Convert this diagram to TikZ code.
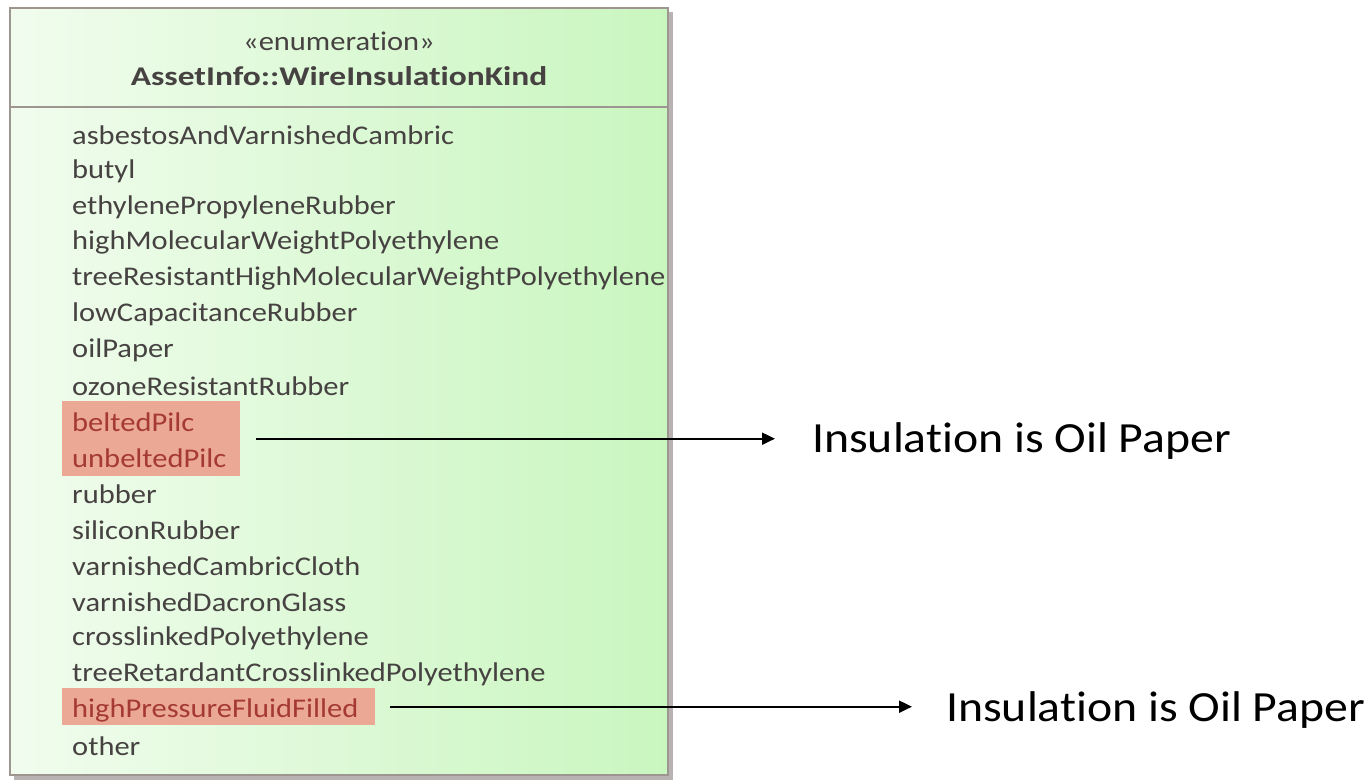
\documentclass[tikz,border=0pt]{standalone}
\usepackage{fontspec}
\defaultfontfeatures{Ligatures=NoCommon, Contextuals=NoAlternate}
\setmainfont{Carlito}
\newfontfamily\umlfont[FakeStretch=1.13]{Carlito}
\newfontfamily\umlbold[FakeStretch=1.24]{Carlito}
\newfontfamily\notefont[FakeStretch=1.11]{Carlito}
\usetikzlibrary{arrows.meta}

\definecolor{enumtext}{HTML}{474242}
\definecolor{oiltext}{HTML}{A53A34}
\definecolor{hilitefill}{HTML}{EBA895}
\definecolor{boxleft}{HTML}{F1FCEE}
\definecolor{boxright}{HTML}{C9F6BF}
\definecolor{boxline}{HTML}{9C9590}
\definecolor{boxshadow}{HTML}{B9B2B2}

\tikzset{
  literal/.style={anchor=west, inner sep=0pt, font=\umlfont\fontsize{27}{30}\selectfont},
  hilite/.style={fill=hilitefill, inner sep=0pt, anchor=north west},
  note/.style={anchor=west, inner sep=0pt, font=\notefont\fontsize{43}{48}\selectfont},
  pointer/.style={-{Triangle[length=13pt,width=12pt]}, line width=2pt}
}

\begin{document}
\begin{tikzpicture}[x=1pt, y=-1pt]
\useasboundingbox (0,0) rectangle (1371,782);

% enumeration box with its shadow
\fill[boxshadow] (14,12) rectangle (673,780);
\shade[left color=boxleft, right color=boxright] (10,8) rectangle (668,775);
\draw[boxline, line width=1.6pt] (10,8) rectangle (668,775);
\draw[boxline, line width=1.6pt] (10,107) -- (668,107);

\node[font=\umlfont\fontsize{27}{30}\selectfont, text=enumtext] (stereo) at (339,41) {«enumeration»};
\node[font=\umlbold\bfseries\fontsize{27}{30}\selectfont, text=enumtext] (kind) at (339,76) {AssetInfo::WireInsulationKind};

% marked literals
\node[hilite, minimum width=178pt, minimum height=75pt] (pilc) at (62,401) {};
\node[hilite, minimum width=313pt, minimum height=37pt] (hpff) at (62,688) {};

\foreach \name/\col [count=\i] in {
    asbestosAndVarnishedCambric/enumtext, butyl/enumtext,
    ethylenePropyleneRubber/enumtext, highMolecularWeightPolyethylene/enumtext,
    treeResistantHighMolecularWeightPolyethylene/enumtext, lowCapacitanceRubber/enumtext,
    oilPaper/enumtext, ozoneResistantRubber/enumtext,
    beltedPilc/oiltext, unbeltedPilc/oiltext,
    rubber/enumtext, siliconRubber/enumtext,
    varnishedCambricCloth/enumtext, varnishedDacronGlass/enumtext,
    crosslinkedPolyethylene/enumtext, treeRetardantCrosslinkedPolyethylene/enumtext,
    highPressureFluidFilled/oiltext, other/enumtext}{
    \node[literal, text=\col] (lit\i) at (72, {135+(\i-1)*35.94}) {\name};
}

% notes
\node[note] (note1) at (812,441) {Insulation is Oil Paper};
\node[note] (note2) at (946,710) {Insulation is Oil Paper};

\draw[pointer, shorten <=16pt, shorten >=37pt] (pilc.east) -- (pilc.east -| note1.west);
\draw[pointer, shorten <=15pt, shorten >=34pt] (hpff.east) -- (hpff.east -| note2.west);
\end{tikzpicture}
\end{document}
